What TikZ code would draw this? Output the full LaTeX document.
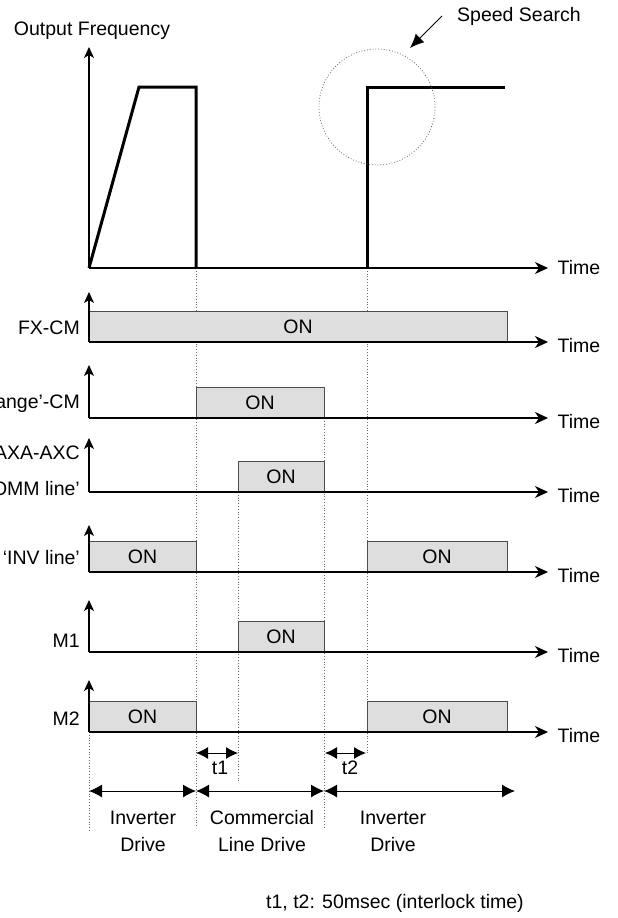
\documentclass[tikz,border=0pt]{standalone}
\usepackage{fontspec}
\setmainfont{Liberation Sans}
\usetikzlibrary{arrows.meta}
\begin{document}
\begin{tikzpicture}[x=1pt,y=-1pt, every node/.style={font=\fontsize{19.5}{27}\selectfont, inner sep=0pt},
  axis/.style={line width=1.2pt, -{Stealth[length=13pt,width=12pt,inset=4pt]}},
  yaxis/.style={line width=1.2pt, -{Stealth[length=11pt,width=10pt,inset=3pt]}},
  onbox/.style={draw=black!70, fill=black!13, line width=1pt},
  guide/.style={dotted, black!60, line width=0.8pt},
  span/.style={line width=1pt, {Latex[length=12pt,width=12pt]}-{Latex[length=12pt,width=12pt]}},
  drive/.style={line width=1pt, {Latex[length=13pt,width=13pt]}-{Latex[length=13pt,width=13pt]}},
  timelbl/.style={anchor=west, xshift=9pt, yshift=-4pt}]
\useasboundingbox (0,0) rectangle (618,918);
\draw[guide] (89,732) -- (89,832);
\draw[guide] (196,268) -- (196,828);
\draw[guide] (238,492) -- (238,783);
\draw[guide] (324,418) -- (324,828);
\draw[guide] (367,268) -- (367,753);
\node (freq) at (92,31) {Output Frequency};
\draw[yaxis] (89,268) -- (89,47);
\draw[axis] (89,268) -- (548,268) node[timelbl, yshift=4pt] (time0) {Time};
\draw[line width=3pt] (89,268) -- (139,87) -- (196,87) -- (196,268);
\draw[line width=3pt] (367,268) -- (367,87) -- (505,87);
\draw[guide] (377,107) circle[radius=58];
\node[anchor=west] (ss) at (457,16) {Speed Search};
\coordinate (sstip) at (410,48);
\draw[line width=1pt, -{Latex[length=14pt,width=12pt]}] ([xshift=-15pt]ss.west) -- (sstip);
\foreach \xa/\xb/\yb [count=\i] in {89/507/342, 196/324/418, 238/324/492, 89/196/572, 367/507/572, 238/324/652, 89/196/732, 367/507/732} {
  \draw[onbox] (\xa,\yb-31) rectangle (\xb,\yb);
  \node (on\i) at ({(\xa+\xb)/2},\yb-15.5) {ON};
}
\foreach \yb/\yt [count=\i] in {342/292, 418/365, 492/438, 572/525, 652/600, 732/680} {
  \draw[yaxis] (89,\yb) -- (89,\yt);
  \draw[axis] (89,\yb) -- (548,\yb) node[timelbl] (time\i) {Time};
}
\node[anchor=east] (fxcm) at (80,328) {FX-CM};
\node[anchor=east] (xchg) at (80,404) {ange'-CM};
\node[anchor=east] (axa) at (80,453) {AXA-AXC};
\node[anchor=east] (comm) at (80,489) {OMM line'};
\node[anchor=east] (inv) at (80,558) {`INV line'};
\node[anchor=east] (mone) at (80,641) {M1};
\node[anchor=east] (mtwo) at (80,719) {M2};
\coordinate (ta) at (196,753);
\coordinate (tb) at (238,753);
\coordinate (tc) at (325,753);
\coordinate (td) at (366,753);
\draw[span] (ta) -- (tb);
\draw[span] (tc) -- (td);
\node (tone) at (220,768) {t1};
\node (ttwo) at (350,768) {t2};
\coordinate (da) at (89,791);
\coordinate (db) at (196,791);
\coordinate (dc) at (324,791);
\coordinate (dd) at (515,791);
\draw[drive] (da) -- (db);
\draw[drive] (db) -- (dc);
\draw[drive] (dc) -- (dd);
\node[align=center] (invone) at (143,831) {Inverter\\Drive};
\node[align=center] (cline) at (262,831) {Commercial\\Line Drive};
\node[align=center] (invtwo) at (393,831) {Inverter\\Drive};
\node (note) at (395,903) {t1, t2: 50msec (interlock time)};
\end{tikzpicture}
\end{document}
